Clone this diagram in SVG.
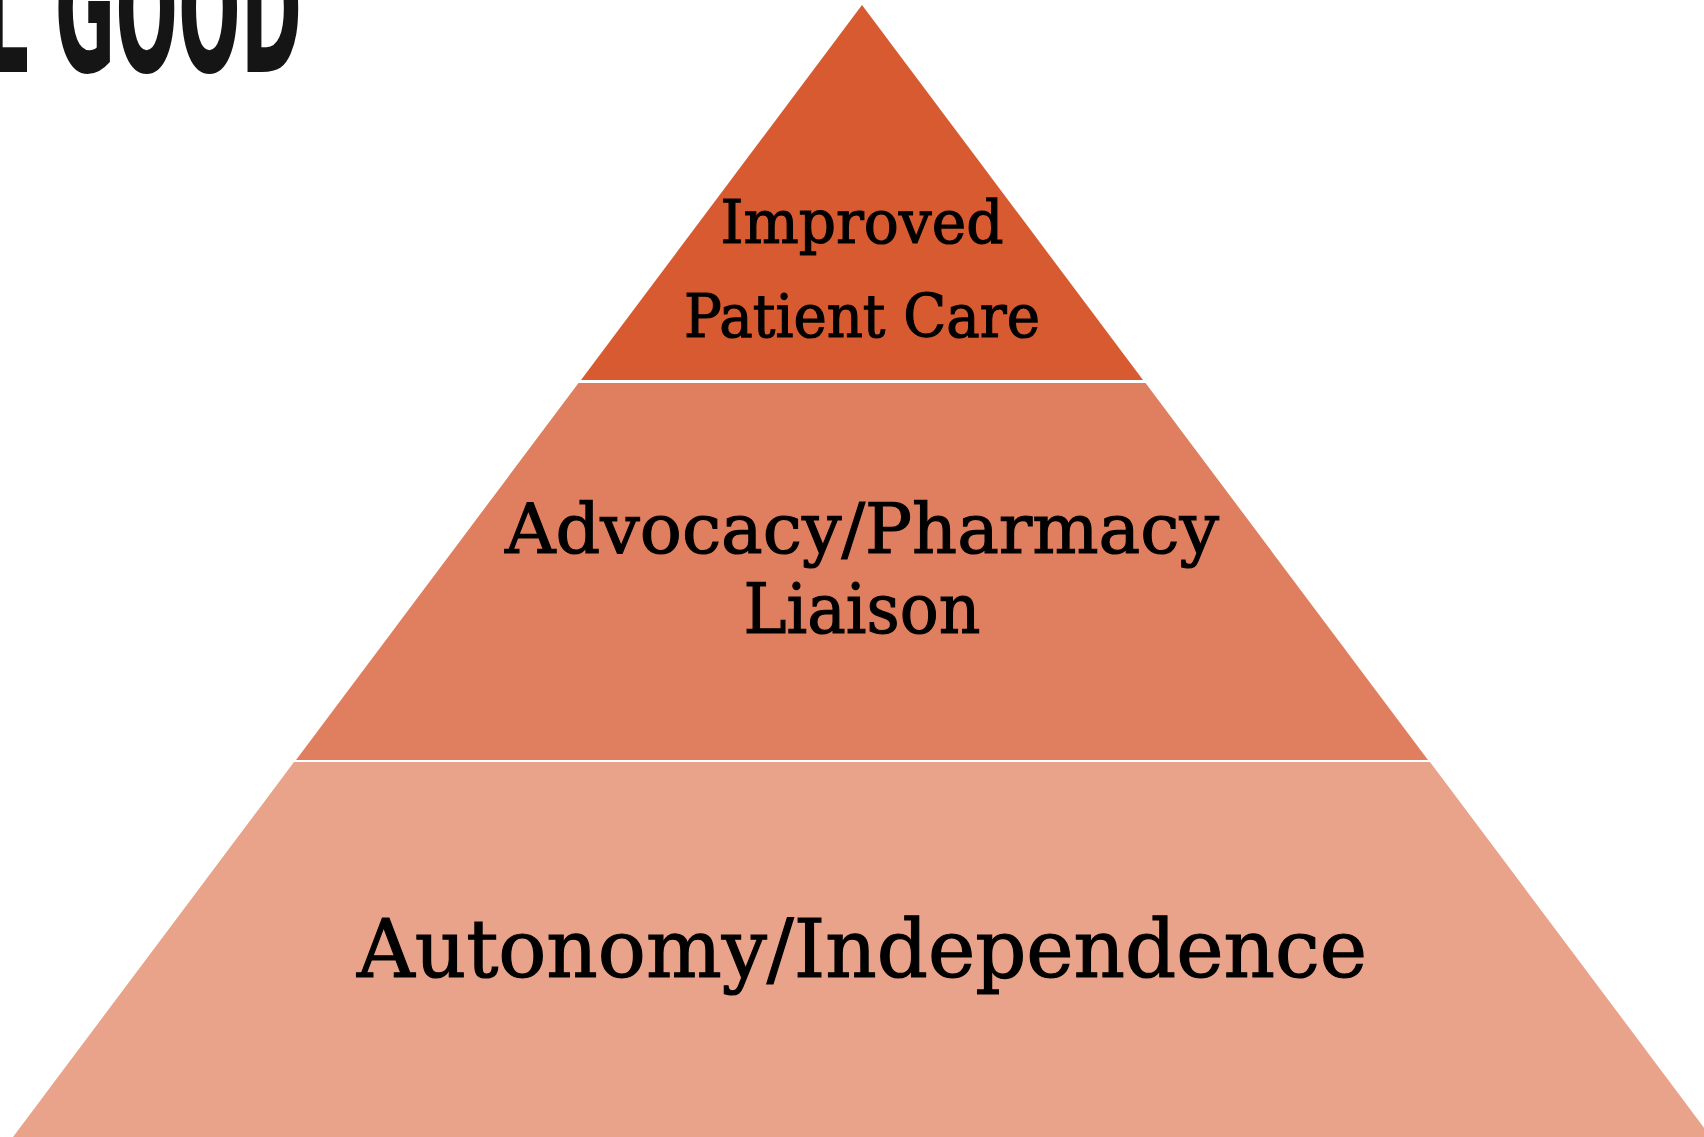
<svg xmlns="http://www.w3.org/2000/svg" width="1704" height="1137" viewBox="0 0 1704 1137">
<style>
.lbl{font-family:"DejaVu Serif","Liberation Serif",serif;fill:#000;stroke:#000;stroke-width:1.2;text-anchor:middle}
.title{font-family:"DejaVu Sans Condensed","DejaVu Sans","Liberation Sans",sans-serif;font-weight:bold;fill:#151515}
</style>
<rect width="1704" height="1137" fill="#fff"/>
<g id="title">
<text class="title" transform="translate(0,72) scale(1,1.45)" x="-18" y="0" font-size="120" textLength="320" lengthAdjust="spacingAndGlyphs">L GOOD</text>
</g>
<g id="tier-top">
<polygon points="862,5 581,380 1143,380" fill="#D75A30"/>
<text class="lbl" x="862" y="243" font-size="59" textLength="283" lengthAdjust="spacingAndGlyphs">Improved</text>
<text class="lbl" x="862" y="337" font-size="59" textLength="356" lengthAdjust="spacingAndGlyphs">Patient Care</text>
</g>
<g id="tier-middle">
<polygon points="578.5,383 1145.5,383 1428,760 296,760" fill="#E07F60"/>
<text class="lbl" x="862" y="553" font-size="69" textLength="714" lengthAdjust="spacingAndGlyphs">Advocacy/Pharmacy</text>
<text class="lbl" x="862" y="633" font-size="69" textLength="237" lengthAdjust="spacingAndGlyphs">Liaison</text>
</g>
<g id="tier-bottom">
<polygon points="294,762 1430,762 1711,1137 13,1137" fill="#E8A38A"/>
<text class="lbl" x="862" y="977" font-size="80" textLength="1010" lengthAdjust="spacingAndGlyphs">Autonomy/Independence</text>
</g>
<g id="connectors"/>
</svg>
